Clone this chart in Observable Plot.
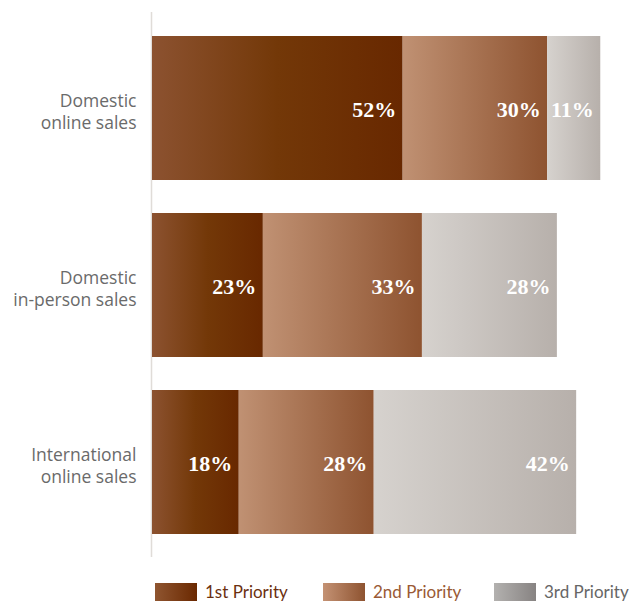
<!DOCTYPE html>
<html>
<head>
<meta charset="utf-8">
<script src="https://cdn.jsdelivr.net/npm/d3@7"></script>
<script src="https://cdn.jsdelivr.net/npm/@observablehq/plot@0.6"></script>
<style>
  body { margin: 0; background: #fff; }
  #legend { position: relative; height: 30px; font-family: Lato, sans-serif; font-size: 17px; margin-top: 16px; }
  .item { position: absolute; top: 0; display: flex; align-items: center; }
  .sw { width: 42px; height: 18px; margin-right: 8px; }
</style>
</head>
<body>
<div id="chart"></div>
<div id="legend"></div>
<script>
const categories = ["Domestic\nonline sales", "Domestic\nin-person sales", "International\nonline sales"];
const priorities = ["1st Priority", "2nd Priority", "3rd Priority"];
const firstPriority = [52, 23, 18];
const secondPriority = [30, 33, 28];
const thirdPriority = [11, 28, 42];

const series = [firstPriority, secondPriority, thirdPriority];
const data = categories.flatMap((c, i) =>
  priorities.map((p, j) => ({ category: c, priority: p, value: series[j][i] }))
);

const plot = Plot.plot({
  width: 642,
  height: 565,
  marginLeft: 152,
  marginRight: 8,
  marginTop: 12,
  marginBottom: 8,
  style: { fontFamily: "'Open Sans', sans-serif", background: "#fff" },
  x: { domain: [0, 100], axis: null },
  y: { domain: categories, paddingInner: 0.188, paddingOuter: 0.125, label: null },
  color: { domain: priorities, range: ["url(#g1)", "url(#g2)", "url(#g3)"] },
  marks: [
    Plot.ruleX([0], { stroke: "#e0dcd8", strokeWidth: 1.5, dx: -1 }),
    Plot.barX(data, { x: "value", y: "category", fill: "priority" }),
    Plot.textX(data, Plot.stackX2({
      x: "value", y: "category", z: "priority",
      text: d => d.value + "%",
      textAnchor: "end", dx: -7, dy: 1, fill: "white",
      fontSize: 22, fontWeight: "bold", fontFamily: "'Liberation Serif', serif",
      ariaLabel: "values"
    })),
    Plot.axisY({ tickSize: 0, tickPadding: 16, dy: 2.5, fontSize: 17.5, color: "#6a6a6a", label: null, lineHeight: 1.27 })
  ]
});

const defs = `
<defs>
  <linearGradient id="g1" x1="0" x2="1" y1="0" y2="0">
    <stop offset="0" stop-color="#8c5230"/>
    <stop offset="0.5" stop-color="#733808"/>
    <stop offset="1" stop-color="#682800"/>
  </linearGradient>
  <linearGradient id="g2" x1="0" x2="1" y1="0" y2="0">
    <stop offset="0" stop-color="#c09173"/>
    <stop offset="1" stop-color="#8e5330"/>
  </linearGradient>
  <linearGradient id="g3" x1="0" x2="1" y1="0" y2="0">
    <stop offset="0" stop-color="#d6d2ce"/>
    <stop offset="1" stop-color="#b7b0ab"/>
  </linearGradient>
  <filter id="shadow" x="-20%" y="-30%" width="140%" height="160%">
    <feDropShadow dx="1.2" dy="1.5" stdDeviation="1.3" flood-color="#000" flood-opacity="0.55"/>
  </filter>
</defs>`;
plot.insertAdjacentHTML("afterbegin", defs);
d3.select(plot).selectAll('g[aria-label="values"]').attr("filter", "url(#shadow)");
document.getElementById("chart").appendChild(plot);

// legend
const legendSwatches = [
  "linear-gradient(to right, #8f5530, #6a2800)",
  "linear-gradient(to right, #c49274, #8e5330)",
  "linear-gradient(to right, #b3b1af, #878382)"
];
const legendColors = ["#6b3010", "#9a5a35", "#666666"];
const legendLeft = [155, 323, 494];
const legend = d3.select("#legend");
priorities.forEach((p, i) => {
  const it = legend.append("div").attr("class", "item").style("left", legendLeft[i] + "px");
  it.append("div").attr("class", "sw").style("background", legendSwatches[i]);
  it.append("span").style("color", legendColors[i]).text(p);
});
</script>
</body>
</html>
